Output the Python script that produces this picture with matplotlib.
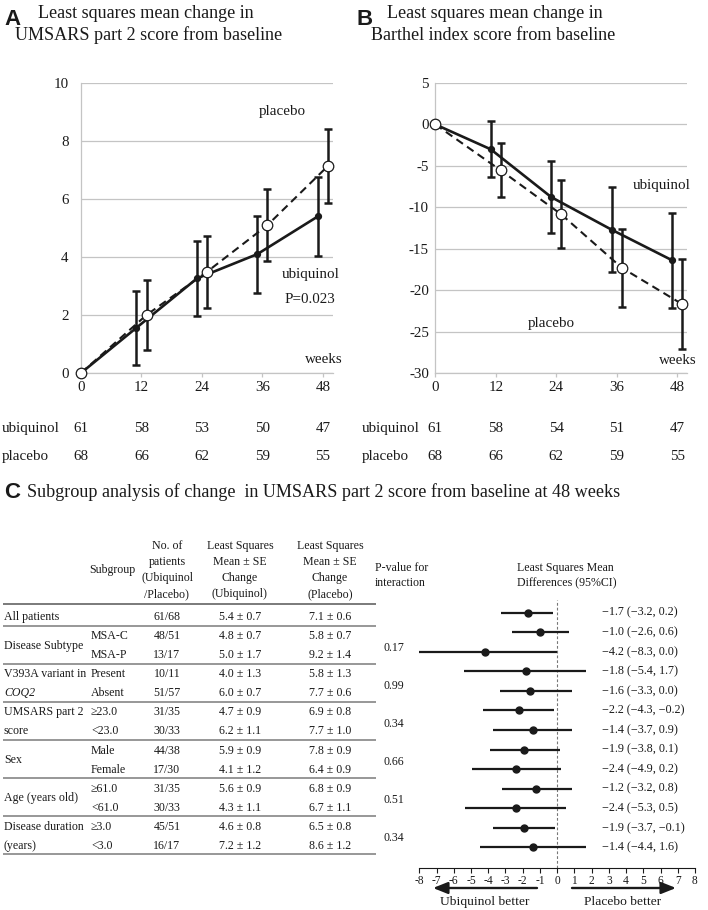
import matplotlib
matplotlib.use('Agg')
import matplotlib.pyplot as plt
import numpy as np
from matplotlib.transforms import blended_transform_factory

plt.rcParams['font.family'] = ['Liberation Serif', 'DejaVu Serif']
plt.rcParams['axes.unicode_minus'] = False

# ---------------- data ----------------
weeks = [0, 12, 24, 36, 48]

# Panel A: UMSARS part 2 (LS mean change, SE)
a_ubi_mean = [0, 1.56, 3.26, 4.10, 5.40]
a_ubi_se = [0, 1.28, 1.30, 1.33, 1.35]
a_pla_mean = [0, 2.00, 3.49, 5.10, 7.14]
a_pla_se = [0, 1.22, 1.24, 1.24, 1.27]

# Panel B: Barthel index
b_ubi_mean = [0, -3.00, -8.77, -12.71, -16.40]
b_ubi_se = [0, 3.40, 4.35, 5.10, 5.75]
b_pla_mean = [0, -5.55, -10.86, -17.30, -21.70]
b_pla_se = [0, 3.25, 4.10, 4.70, 5.40]

a_n_ubi = [61, 58, 53, 50, 47]
a_n_pla = [68, 66, 62, 59, 55]
b_n_ubi = [61, 58, 54, 51, 47]
b_n_pla = [68, 66, 62, 59, 55]

# Panel C: subgroup table
group_labels = ["All patients", "Disease Subtype", "V393A variant in", "COQ2",
                "UMSARS part 2", "score", "Sex", "Age (years old)",
                "Disease duration", "(years)"]
subgroups = ["", "MSA-C", "MSA-P", "Present", "Absent", "\u226523.0", "<23.0",
             "Male", "Female", "\u226561.0", "<61.0", "\u22653.0", "<3.0"]
n_patients = ["61/68", "48/51", "13/17", "10/11", "51/57", "31/35", "30/33",
              "44/38", "17/30", "31/35", "30/33", "45/51", "16/17"]
ubi_change = ["5.4 \u00b1 0.7", "4.8 \u00b1 0.7", "5.0 \u00b1 1.7", "4.0 \u00b1 1.3",
              "6.0 \u00b1 0.7", "4.7 \u00b1 0.9", "6.2 \u00b1 1.1", "5.9 \u00b1 0.9",
              "4.1 \u00b1 1.2", "5.6 \u00b1 0.9", "4.3 \u00b1 1.1", "4.6 \u00b1 0.8",
              "7.2 \u00b1 1.2"]
pla_change = ["7.1 \u00b1 0.6", "5.8 \u00b1 0.7", "9.2 \u00b1 1.4", "5.8 \u00b1 1.3",
              "7.7 \u00b1 0.6", "6.9 \u00b1 0.8", "7.7 \u00b1 1.0", "7.8 \u00b1 0.9",
              "6.4 \u00b1 0.9", "6.8 \u00b1 0.9", "6.7 \u00b1 1.1", "6.5 \u00b1 0.8",
              "8.6 \u00b1 1.2"]
p_values = ["0.17", "0.99", "0.34", "0.66", "0.51", "0.34"]

diff_est = [-1.7, -1.0, -4.2, -1.8, -1.6, -2.2, -1.4, -1.9, -2.4, -1.2, -2.4, -1.9, -1.4]
diff_lo = [-3.27, -2.6, -8.3, -5.4, -3.33, -4.3, -3.7, -3.87, -4.93, -3.22, -5.32, -3.7, -4.45]
diff_hi = [-0.25, 0.68, 0.0, 1.7, 0.84, -0.17, 0.84, 0.16, 0.2, 0.84, 0.5, -0.13, 1.66]
diff_text = ["\u22121.7 (\u22123.2, 0.2)", "\u22121.0 (\u22122.6, 0.6)", "\u22124.2 (\u22128.3, 0.0)",
             "\u22121.8 (\u22125.4, 1.7)", "\u22121.6 (\u22123.3, 0.0)", "\u22122.2 (\u22124.3, \u22120.2)",
             "\u22121.4 (\u22123.7, 0.9)", "\u22121.9 (\u22123.8, 0.1)", "\u22122.4 (\u22124.9, 0.2)",
             "\u22121.2 (\u22123.2, 0.8)", "\u22122.4 (\u22125.3, 0.5)", "\u22121.9 (\u22123.7, \u22120.1)",
             "\u22121.4 (\u22124.4, 1.6)"]
forest_ticks = list(range(-8, 9))

# ---------------- figure ----------------
W, H, DPI = 708, 910, 100
fig = plt.figure(figsize=(W / DPI, H / DPI), dpi=DPI)
fig.patch.set_facecolor('white')

ov = fig.add_axes([0, 0, 1, 1])
ov.set_xlim(0, W)
ov.set_ylim(H, 0)
ov.axis('off')


def px_axes(l, t, r, b):
    return fig.add_axes([l / W, 1 - b / H, (r - l) / W, (b - t) / H])


INK = '#1a1a1a'
GRID = '#c4c4c4'
SANS = ['Liberation Sans', 'DejaVu Sans']
LF = 10.8


def line_panel(ax, ubi_m, ubi_se, pla_m, pla_se, ylim, ystep, ypad):
    xu = [w - 1 if w else w for w in weeks]
    xp = [w + 1 if w else w for w in weeks]
    ax.set_xlim(0, 50)
    ax.set_ylim(*ylim)
    ax.set_yticks(np.arange(ylim[0], ylim[1] + 0.01, ystep))
    ax.set_xticks(weeks)
    ax.yaxis.grid(True, color=GRID, lw=0.9)
    ax.set_axisbelow(True)
    for s in ['top', 'right']:
        ax.spines[s].set_visible(False)
    for s in ['left', 'bottom']:
        ax.spines[s].set_color(GRID)
        ax.spines[s].set_linewidth(0.9)
    ax.tick_params(axis='y', length=0, pad=ypad, labelsize=LF, labelcolor=INK)
    ax.tick_params(axis='x', length=3, width=0.9, color=GRID, pad=3, labelsize=LF, labelcolor=INK)
    ax.plot(xp, pla_m, color=INK, lw=1.5, ls=(0, (3.8, 2.4)), zorder=3, clip_on=False)
    ax.plot(xu, ubi_m, color=INK, lw=1.9, zorder=3, clip_on=False)
    ax.errorbar(xu[1:], ubi_m[1:], yerr=ubi_se[1:], fmt='none', ecolor=INK,
                elinewidth=1.8, capsize=2.6, capthick=1.8, zorder=4)
    ax.errorbar(xp[1:], pla_m[1:], yerr=pla_se[1:], fmt='none', ecolor=INK,
                elinewidth=1.8, capsize=2.6, capthick=1.8, zorder=4)
    ax.plot(xu, ubi_m, 'o', ms=4.2, color=INK, zorder=5, clip_on=False)
    ax.plot(xp, pla_m, 'o', ms=7.6, mfc='white', mec=INK, mew=0.9, zorder=6, clip_on=False)


# Panel A
axA = px_axes(81, 83, 333, 373)
line_panel(axA, a_ubi_mean, a_ubi_se, a_pla_mean, a_pla_se, (0, 10), 2, 9)
axA.text(40, 9.0, "placebo", ha='center', va='center', fontsize=LF, color=INK)
axA.text(45.6, 3.38, "ubiquinol", ha='center', va='center', fontsize=LF, color=INK)
axA.text(45.4, 2.52, "P=0.023", ha='center', va='center', fontsize=LF, color=INK)
axA.text(48.2, 0.48, "weeks", ha='center', va='center', fontsize=LF, color=INK)

# Panel B
axB = px_axes(435.3, 83, 687.3, 373)
line_panel(axB, b_ubi_mean, b_ubi_se, b_pla_mean, b_pla_se, (-30, 5), 5, 4.6)
axB.text(44.9, -7.4, "ubiquinol", ha='center', va='center', fontsize=LF, color=INK)
axB.text(23.0, -24.0, "placebo", ha='center', va='center', fontsize=LF, color=INK)
axB.text(48.2, -28.5, "weeks", ha='center', va='center', fontsize=LF, color=INK)

# titles
TT = 13.1
ov.text(4, 25, "A", fontsize=16, fontweight='bold', family=SANS, color=INK)
ov.text(38, 18.5, "Least squares mean change in", fontsize=TT, color=INK)
ov.text(15, 40, "UMSARS part 2 score from baseline", fontsize=TT, color=INK)
ov.text(356, 25, "B", fontsize=16, fontweight='bold', family=SANS, color=INK)
ov.text(387, 18.5, "Least squares mean change in", fontsize=TT, color=INK)
ov.text(371, 40, "Barthel index score from baseline", fontsize=TT, color=INK)

# numbers at risk
for ax, lx, nu, npl in [(axA, 2, a_n_ubi, a_n_pla), (axB, 362, b_n_ubi, b_n_pla)]:
    tr = blended_transform_factory(ax.transData, ov.transData)
    ov.text(lx, 432, "ubiquinol", fontsize=LF, color=INK)
    ov.text(lx, 460, "placebo", fontsize=LF, color=INK)
    for w, a, b in zip(weeks, nu, npl):
        ax.text(w, 432, str(a), transform=tr, ha='center', fontsize=LF, color=INK, clip_on=False)
        ax.text(w, 460, str(b), transform=tr, ha='center', fontsize=LF, color=INK, clip_on=False)

# Panel C title
ov.text(4, 498, "C", fontsize=16, fontweight='bold', family=SANS, color=INK)
ov.text(27, 497, "Subgroup analysis of change  in UMSARS part 2 score from baseline at 48 weeks",
        fontsize=TT, color=INK)

# ---------------- table ----------------
TF = 8.6
row_y = [616 + 19.08 * i for i in range(13)]
col_sub, col_n, col_u, col_p = 91, 167, 240, 330

hdr_base = [549, 565, 581, 597]
for t, y in zip(["No. of", "patients", "(Ubiquinol", "/Placebo)"], hdr_base):
    ov.text(col_n, y, t, ha='center', fontsize=TF, color=INK)
for t, y in zip(["Least Squares", "Mean \u00b1 SE", "Change", "(Ubiquinol)"], hdr_base):
    ov.text(col_u, y, t, ha='center', fontsize=TF, color=INK)
for t, y in zip(["Least Squares", "Mean \u00b1 SE", "Change", "(Placebo)"], hdr_base):
    ov.text(col_p, y, t, ha='center', fontsize=TF, color=INK)
ov.text(col_sub - 2, 573, "Subgroup", ha='left', fontsize=TF, color=INK)
ov.text(375, 571, "P-value for", ha='left', fontsize=TF, color=INK)
ov.text(375, 586, "interaction", ha='left', fontsize=TF, color=INK)
ov.text(517, 571, "Least Squares Mean", ha='left', fontsize=TF, color=INK)
ov.text(517, 586, "Differences (95%CI)", ha='left', fontsize=TF, color=INK)

# group labels
grp_rows = [(0,), (1, 2), (3,), (4,), (5,), (6,), (7, 8), (9, 10), (11,), (12,)]
for lab, rows in zip(group_labels, grp_rows):
    y = np.mean([row_y[r] for r in rows]) + 4
    style = 'italic' if lab == "COQ2" else 'normal'
    ov.text(4, y, lab, ha='left', fontsize=TF, color=INK, style=style)

for i in range(13):
    yb = row_y[i] + 4
    ov.text(col_sub, yb, subgroups[i], ha='left', fontsize=TF, color=INK)
    ov.text(col_n, yb, n_patients[i], ha='center', fontsize=TF, color=INK)
    ov.text(col_u, yb, ubi_change[i], ha='center', fontsize=TF, color=INK)
    ov.text(col_p, yb, pla_change[i], ha='center', fontsize=TF, color=INK)

pairs = [(1, 2), (3, 4), (5, 6), (7, 8), (9, 10), (11, 12)]
for pv, (r1, r2) in zip(p_values, pairs):
    y = (row_y[r1] + row_y[r2]) / 2 + 6
    ov.text(383, y, pv, ha='left', fontsize=TF, color=INK)

# table rules
rule_y = [604] + [row_y[i] + 9.5 for i in (0, 2, 4, 6, 8, 10, 12)]
for j, y in enumerate(rule_y):
    ov.plot([3, 376], [y, y], color='#7a7a7a', lw=1.4 if j == 0 else 1.1, solid_capstyle='butt')

# ---------------- forest plot ----------------
axF = px_axes(419.3, 600, 695, 867.7)
axF.set_xlim(-8, 8)
axF.set_ylim(13.04, -0.65)
for s in ['top', 'right', 'left']:
    axF.spines[s].set_visible(False)
axF.spines['bottom'].set_color(INK)
axF.spines['bottom'].set_linewidth(0.8)
axF.set_yticks([])
axF.set_xticks(forest_ticks)
axF.tick_params(axis='x', direction='out', length=3.5, width=0.8, color=INK, pad=2,
                labelsize=8.3, labelcolor=INK)
axF.axvline(0, color='#777777', lw=0.8, ls=(0, (2.5, 1.8)), zorder=1)
for i in range(13):
    axF.plot([diff_lo[i], diff_hi[i]], [i, i], color=INK, lw=1.6, zorder=2,
             solid_capstyle='butt')
    axF.text(2.63, i, diff_text[i], ha='left', va='center', fontsize=8.7, color=INK)
axF.plot(diff_est, range(13), 'o', ms=5, color=INK, zorder=3)

# arrows
astyle = '-|>,head_length=0.55,head_width=0.22'
ov.annotate("", xy=(433, 888), xytext=(537, 888),
            arrowprops=dict(arrowstyle=astyle, color=INK, lw=1.7, mutation_scale=16,
                            shrinkA=0, shrinkB=0))
ov.annotate("", xy=(676, 888), xytext=(572, 888),
            arrowprops=dict(arrowstyle=astyle, color=INK, lw=1.7, mutation_scale=16,
                            shrinkA=0, shrinkB=0))
ov.text(485, 902, "Ubiquinol better", ha='center', va='center', fontsize=9.7, color=INK)
ov.text(623, 902, "Placebo better", ha='center', va='center', fontsize=9.7, color=INK)

fig.savefig('out.png', dpi=DPI, facecolor='white')
